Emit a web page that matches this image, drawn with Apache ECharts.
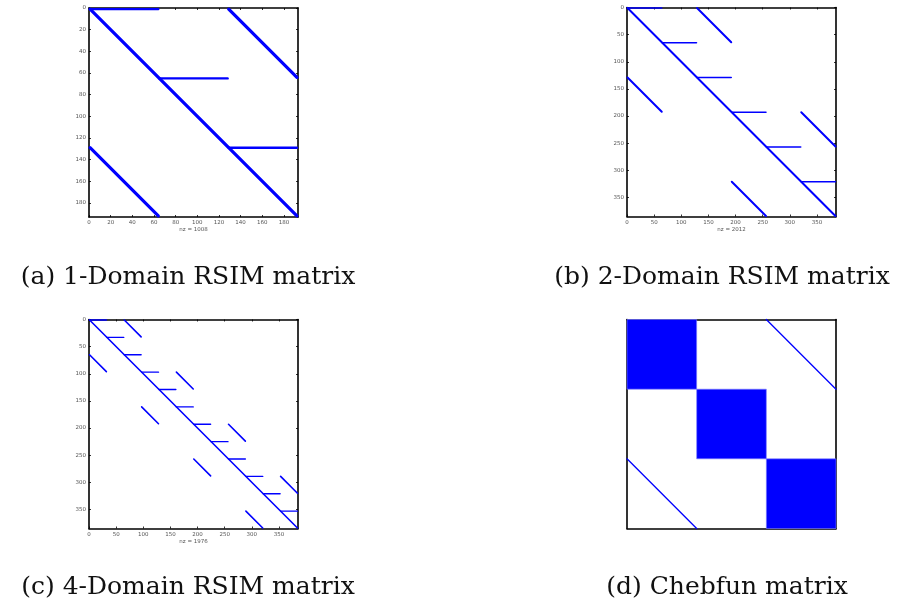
<!DOCTYPE html>
<html>
<head>
<meta charset="utf-8">
<script src="https://cdn.jsdelivr.net/npm/echarts@6/dist/echarts.min.js"></script>
<style>
  html, body { margin: 0; padding: 0; background: #fff; }
  #chart { width: 901px; height: 607px; }
</style>
</head>
<body>
<div id="chart"></div>
<script>
// Sparsity patterns of the system matrices. Every nonzero run is a segment
// [col0, row0, col1, row1] in 1-based matrix indices.

// (a) 1-Domain RSIM, n = 192, three blocks of 64
const sizeA = 192;
const nzA = 1008;
const bandsA = [[1, 1, 192, 192], [129, 1, 192, 64], [1, 129, 64, 192]];
const rowRunsA = [[1, 1, 64, 1], [65, 65, 128, 65], [129, 129, 192, 129]];
const ticksA = [0, 20, 40, 60, 80, 100, 120, 140, 160, 180];

// (b) 2-Domain RSIM, n = 384, six blocks of 64
const sizeB = 384;
const nzB = 2012;
const bandsB = [[1, 1, 384, 384], [129, 1, 192, 64], [1, 129, 64, 192],
                [321, 193, 384, 256], [193, 321, 256, 384]];
const rowRunsB = [[1, 1, 64, 1], [65, 65, 128, 65], [129, 129, 192, 129],
                  [193, 193, 256, 193], [257, 257, 320, 257], [321, 321, 384, 321]];
const ticksB = [0, 50, 100, 150, 200, 250, 300, 350];

// (c) 4-Domain RSIM, n = 384, twelve blocks of 32
const sizeC = 384;
const nzC = 1976;
const bandsC = [[1, 1, 384, 384],
                [65, 1, 96, 32], [1, 65, 32, 96],
                [161, 97, 192, 128], [97, 161, 128, 192],
                [257, 193, 288, 224], [193, 257, 224, 288],
                [353, 289, 384, 320], [289, 353, 320, 384]];
const rowRunsC = [[1, 1, 32, 1], [33, 33, 64, 33], [65, 65, 96, 65], [97, 97, 128, 97],
                  [129, 129, 160, 129], [161, 161, 192, 161], [193, 193, 224, 193],
                  [225, 225, 256, 225], [257, 257, 288, 257], [289, 289, 320, 289],
                  [321, 321, 352, 321], [353, 353, 384, 353]];
const ticksC = [0, 50, 100, 150, 200, 250, 300, 350];

// (d) Chebfun matrix, in units of one third of the size: dense diagonal blocks
// plus two corner bands
const sizeD = 3;
const denseBlocksD = [[0, 0, 1, 1], [1, 1, 2, 2], [2, 2, 3, 3]];
const bandsD = [[2, 0, 3, 1], [0, 2, 1, 3]];

const captions = ['(a) 1-Domain RSIM matrix', '(b) 2-Domain RSIM matrix',
                  '(c) 4-Domain RSIM matrix', '(d) Chebfun matrix'];

const BLUE = '#0000ff';
const grids = [
  { left: 89, top: 8, width: 209, height: 209 },
  { left: 627, top: 7.5, width: 209, height: 209 },
  { left: 89, top: 319.5, width: 209, height: 209 },
  { left: 627, top: 319.5, width: 209, height: 209 }
];

const tickFont = { fontSize: 5.5, color: '#555', fontFamily: 'DejaVu Sans' };

function axesFor(i, max, ticks, nz) {
  const withTicks = ticks !== null;
  const line = { show: true, onZero: false, lineStyle: { color: '#000', width: 1.6 } };
  const tick = withTicks
    ? { show: true, inside: true, length: 2, customValues: ticks, lineStyle: { color: '#000', width: 0.8 } }
    : { show: false };
  const label = withTicks
    ? Object.assign({ show: true, customValues: ticks, margin: 3 }, tickFont)
    : { show: false };
  const base = { type: 'value', gridIndex: i, min: 0, max: max, splitLine: { show: false }, axisLine: line, axisTick: tick };
  return {
    x: [
      Object.assign({}, base, {
        position: 'bottom', axisLabel: label,
        name: nz === null ? '' : 'nz = ' + nz, nameLocation: 'middle', nameGap: 10,
        nameTextStyle: tickFont
      }),
      Object.assign({}, base, { position: 'top', axisLabel: { show: false } })
    ],
    y: [
      Object.assign({}, base, { position: 'left', inverse: true, axisLabel: label }),
      Object.assign({}, base, { position: 'right', inverse: true, axisLabel: { show: false } })
    ]
  };
}

const panelAxes = [
  axesFor(0, sizeA + 1, ticksA, nzA),
  axesFor(1, sizeB + 1, ticksB, nzB),
  axesFor(2, sizeC + 1, ticksC, nzC),
  axesFor(3, sizeD, null, null)
];

const xAxes = [], yAxes = [];
panelAxes.forEach(p => { xAxes.push(...p.x); yAxes.push(...p.y); });

function segmentSeries(panel, data, width) {
  return {
    type: 'custom',
    xAxisIndex: panel * 2,
    yAxisIndex: panel * 2,
    clip: false,
    silent: true,
    encode: { x: [0, 2], y: [1, 3] },
    data: data,
    renderItem: function (params, api) {
      const p0 = api.coord([api.value(0), api.value(1)]);
      const p1 = api.coord([api.value(2), api.value(3)]);
      return {
        type: 'line',
        shape: { x1: p0[0], y1: p0[1], x2: p1[0], y2: p1[1] },
        style: { stroke: BLUE, fill: null, lineWidth: width, lineCap: 'round' }
      };
    }
  };
}

function blockSeries(panel, data) {
  return {
    type: 'custom',
    xAxisIndex: panel * 2,
    yAxisIndex: panel * 2,
    silent: true,
    encode: { x: [0, 2], y: [1, 3] },
    data: data,
    renderItem: function (params, api) {
      const p0 = api.coord([api.value(0), api.value(1)]);
      const p1 = api.coord([api.value(2), api.value(3)]);
      return {
        type: 'rect',
        shape: { x: p0[0], y: p0[1], width: p1[0] - p0[0], height: p1[1] - p0[1] },
        style: { fill: BLUE, stroke: '#8080ff', lineWidth: 0.6 }
      };
    }
  };
}

const series = [
  segmentSeries(0, bandsA, 3.2),
  segmentSeries(0, rowRunsA, 2.4),
  segmentSeries(1, bandsB, 2),
  segmentSeries(1, rowRunsB, 1.6),
  segmentSeries(2, bandsC, 1.6),
  segmentSeries(2, rowRunsC, 1.4),
  blockSeries(3, denseBlocksD),
  segmentSeries(3, bandsD, 1.3)
];

const captionCenters = [[188, 277], [722, 277], [188, 587], [727, 587]];
const graphic = captions.map((t, i) => ({
  type: 'text',
  x: captionCenters[i][0],
  y: captionCenters[i][1],
  style: {
    text: t,
    font: '25px "DejaVu Serif"',
    fill: '#111',
    textAlign: 'center',
    textVerticalAlign: 'middle'
  }
}));

const chart = echarts.init(document.getElementById('chart'), null, { renderer: 'canvas' });
chart.setOption({
  animation: false,
  backgroundColor: '#fff',
  grid: grids,
  xAxis: xAxes,
  yAxis: yAxes,
  series: series,
  graphic: graphic
});
</script>
</body>
</html>
